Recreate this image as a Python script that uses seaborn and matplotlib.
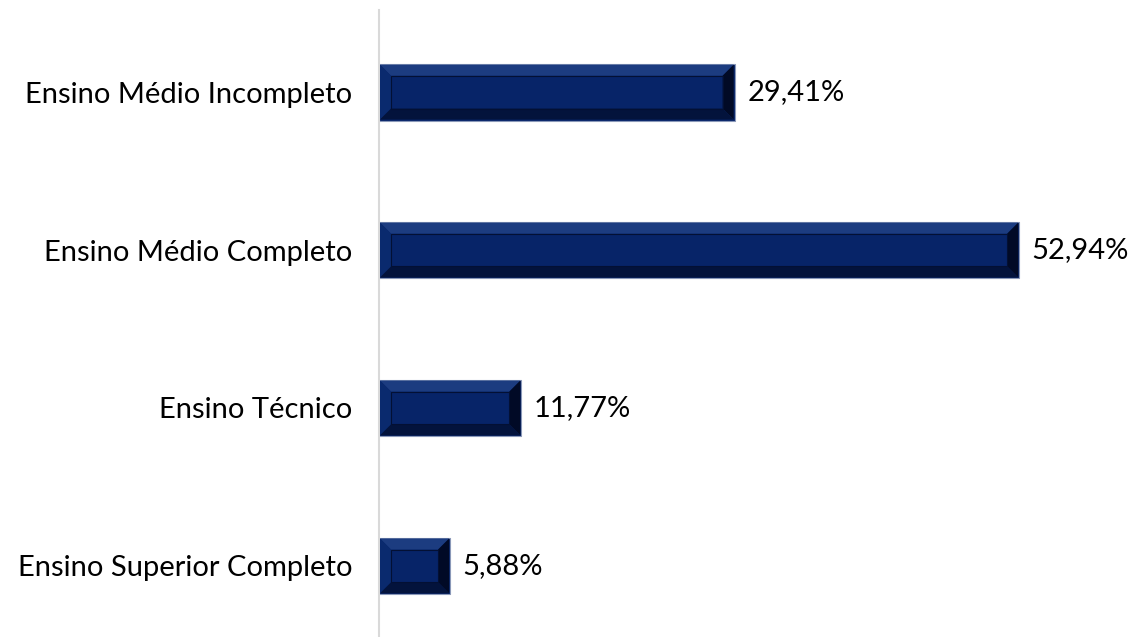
import matplotlib
matplotlib.use("Agg")
import matplotlib.pyplot as plt
import seaborn as sns
import pandas as pd
from matplotlib.patches import Polygon

categorias = ["Ensino Médio Incompleto", "Ensino Médio Completo",
              "Ensino Técnico", "Ensino Superior Completo"]
percentuais = [29.41, 52.94, 11.77, 5.88]
rotulos = ["29,41%", "52,94%", "11,77%", "5,88%"]

df = pd.DataFrame({"categoria": categorias, "pct": percentuais})

sns.set_style("white")
plt.rcParams['font.family'] = ['Lato', 'DejaVu Sans']

fig = plt.figure(figsize=(11.3, 6.37), dpi=100)
ax = fig.add_axes([379 / 1130, 0, 751 / 1130, 627 / 637])

cor = "#072468"
sns.barplot(data=df, x="pct", y="categoria", color=cor, saturation=1,
            width=0.36, edgecolor="#8a98b8", linewidth=0.8, ax=ax)

ax.set_xlim(0, 62.1)
ax.set_ylim(3.45, -0.52)

# efeito de chanfro em cada barra
fig.canvas.draw()
inv = ax.transData.inverted()
for p in ax.patches:
    x0, y0 = p.get_x(), p.get_y()
    w, h = p.get_width(), p.get_height()
    (px0, py0) = ax.transData.transform((x0, y0))
    (px1, py1) = ax.transData.transform((x0 + w, y0 + h))
    bw = 12
    lo_y, hi_y = min(py0, py1), max(py0, py1)
    lo_x, hi_x = min(px0, px1), max(px0, px1)
    outer = [(lo_x + 1, hi_y - 1), (hi_x - 1, hi_y - 1), (hi_x - 1, lo_y + 1), (lo_x + 1, lo_y + 1)]
    inner = [(lo_x + bw, hi_y - bw), (hi_x - bw, hi_y - bw),
             (hi_x - bw, lo_y + bw), (lo_x + bw, lo_y + bw)]
    sides = [
        ([outer[0], outer[1], inner[1], inner[0]], "#1c3c80"),  # topo
        ([outer[0], inner[0], inner[3], outer[3]], "#0a2a6e"),  # esquerda
        ([outer[1], outer[2], inner[2], inner[1]], "#010a26"),  # direita
        ([outer[3], inner[3], inner[2], outer[2]], "#03133c"),  # base
    ]
    for pts, c in sides:
        dpts = [tuple(inv.transform(pt)) for pt in pts]
        ax.add_patch(Polygon(dpts, closed=True, facecolor=c, edgecolor="none", zorder=3))
    ipts = [tuple(inv.transform(pt)) for pt in inner]
    ax.add_patch(Polygon(ipts, closed=True, facecolor="none", edgecolor="#031034",
                         linewidth=0.8, zorder=4))

for i, (v, r) in enumerate(zip(percentuais, rotulos)):
    ax.annotate(r, xy=(v, i), xytext=(9, 0), textcoords="offset points",
                va="center", ha="left", fontsize=21, color="black")

ax.set_xlabel("")
ax.set_ylabel("")
ax.set_xticks([])
ax.tick_params(axis="y", length=0, pad=19, labelsize=21, labelcolor="black")
for s in ["top", "right", "bottom"]:
    ax.spines[s].set_visible(False)
ax.spines["left"].set_color("#d9d9d9")
ax.spines["left"].set_linewidth(1.5)

fig.savefig("out.png", dpi=100)
